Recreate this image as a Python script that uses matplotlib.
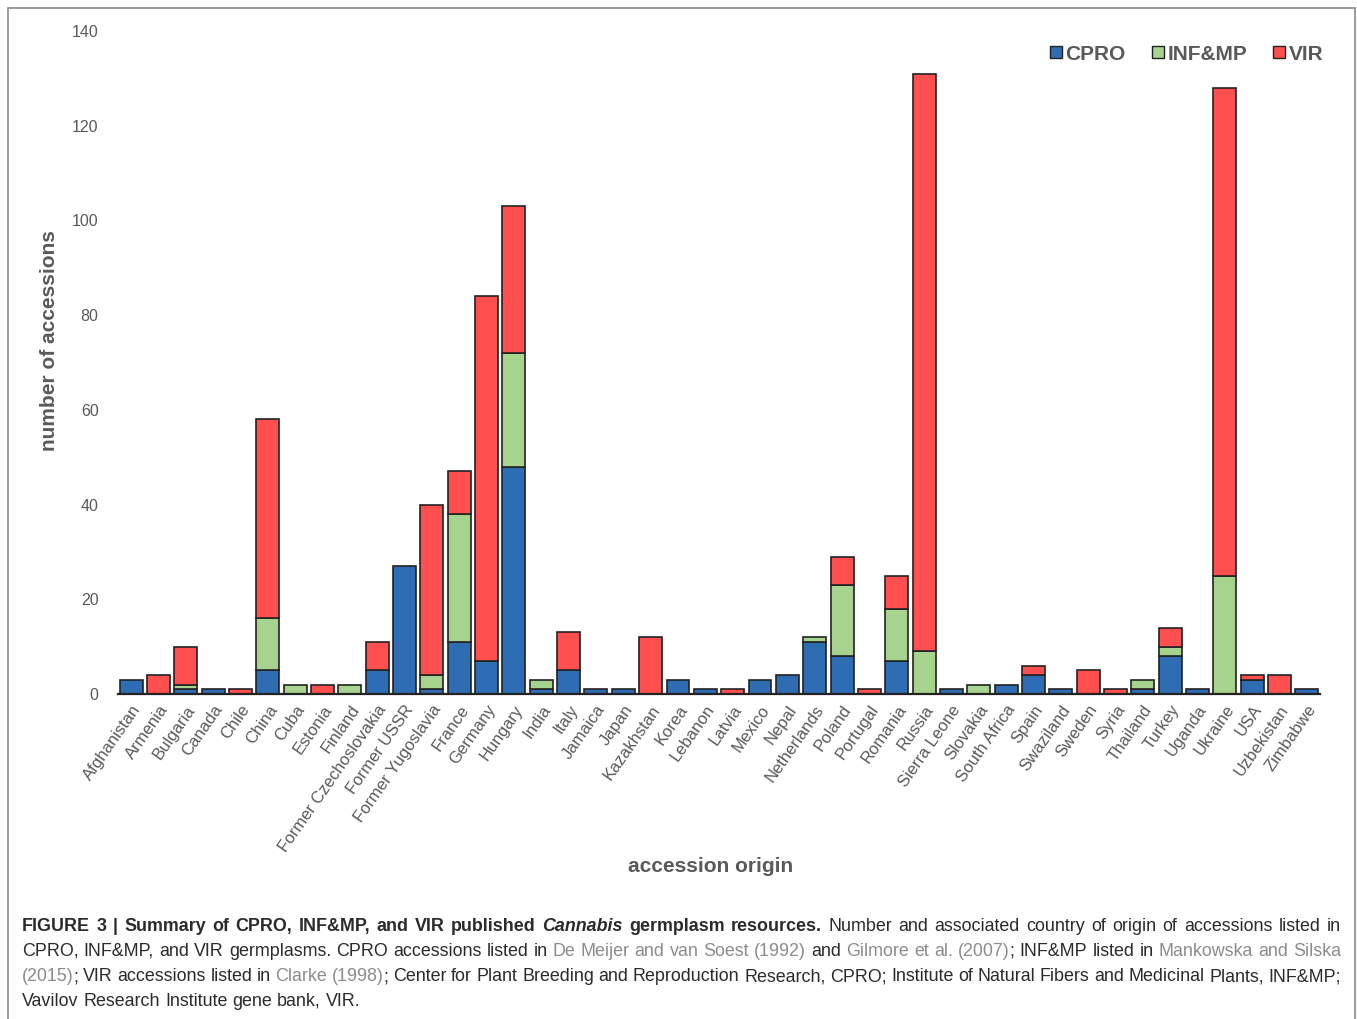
import numpy as np
import matplotlib
matplotlib.use("Agg")
import matplotlib.pyplot as plt
from matplotlib.lines import Line2D
from matplotlib.patches import Rectangle

plt.rcParams['font.family'] = ['Liberation Sans', 'DejaVu Sans']

countries = ["Afghanistan", "Armenia", "Bulgaria", "Canada", "Chile", "China", "Cuba",
             "Estonia", "Finland", "Former Czechoslovakia", "Former USSR",
             "Former Yugoslavia", "France", "Germany", "Hungary", "India", "Italy",
             "Jamaica", "Japan", "Kazakhstan", "Korea", "Lebanon", "Latvia", "Mexico",
             "Nepal", "Netherlands", "Poland", "Portugal", "Romania", "Russia",
             "Sierra Leone", "Slovakia", "South Africa", "Spain", "Swaziland", "Sweden",
             "Syria", "Thailand", "Turkey", "Uganda", "Ukraine", "USA", "Uzbekistan",
             "Zimbabwe"]
cpro = [3, 0, 1, 1, 0, 5, 0, 0, 0, 5, 27, 1, 11, 7, 48, 1, 5, 1, 1, 0, 3, 1, 0, 3,
        4, 11, 8, 0, 7, 0, 1, 0, 2, 4, 1, 0, 0, 1, 8, 1, 0, 3, 0, 1]
infmp = [0, 0, 1, 0, 0, 11, 2, 0, 2, 0, 0, 3, 27, 0, 24, 2, 0, 0, 0, 0, 0, 0, 0, 0,
         0, 1, 15, 0, 11, 9, 0, 2, 0, 0, 0, 0, 0, 2, 2, 0, 25, 0, 0, 0]
vir = [0, 4, 8, 0, 1, 42, 0, 2, 0, 6, 0, 36, 9, 77, 31, 0, 8, 0, 0, 12, 0, 0, 1, 0,
       0, 0, 6, 1, 7, 122, 0, 0, 0, 2, 0, 5, 1, 0, 4, 0, 103, 1, 4, 0]
series_names = ["CPRO", "INF&MP", "VIR"]
yticks = [0, 20, 40, 60, 80, 100, 120, 140]

colors = ["#2E6DB4", "#A6D38E", "#FF4F4F"]
txt_gray = "#595959"
W, H = 1357, 1019

fig = plt.figure(figsize=(W / 100, H / 100), dpi=100)
ax = fig.add_axes([118 / W, 1 - 694 / H, (1320 - 118) / W, (694 - 31) / H])

x = np.arange(len(countries))
bottom = np.zeros(len(countries))
for vals, c in zip([cpro, infmp, vir], colors):
    vals = np.array(vals, dtype=float)
    mask = vals > 0
    ax.bar(x[mask], vals[mask], bottom=bottom[mask], width=0.84, color=c,
           edgecolor="#222222", linewidth=1.2, zorder=2)
    bottom += vals

ax.set_xlim(-0.48, len(countries) - 0.52)
ax.set_ylim(0, 140)
ax.set_yticks(yticks)
ax.tick_params(axis='y', length=0, pad=14, labelsize=11.5, labelcolor=txt_gray)
ax.set_xticks(x)
ax.set_xticklabels(countries, rotation=55, ha='right', rotation_mode='anchor',
                   fontsize=12, color=txt_gray)
ax.tick_params(axis='x', length=0, pad=6)
for s in ['top', 'right', 'left']:
    ax.spines[s].set_visible(False)
ax.spines['bottom'].set_linewidth(1.6)
ax.spines['bottom'].set_color("#222222")

fig.text(50 / W, 1 - 341 / H, "number of accessions", rotation=90, ha='center',
         va='center', fontsize=15, fontweight='bold', color=txt_gray)
fig.text(711 / W, 1 - 867 / H, "accession origin", ha='center', va='center',
         fontsize=15, fontweight='bold', color=txt_gray)

handles = [Line2D([], [], marker='s', linestyle='none', markersize=8.5,
                  markerfacecolor=c, markeredgecolor="#222222", markeredgewidth=1.0)
           for c in colors]
leg = fig.legend(handles, series_names, loc='center right',
                 bbox_to_anchor=(1342 / W, 1 - 54 / H), ncol=3, frameon=False,
                 handletextpad=0.0, columnspacing=1.1, handlelength=0.9,
                 prop={'size': 15, 'weight': 'bold'})
for t in leg.get_texts():
    t.set_color(txt_gray)

# outer frame
fig.add_artist(Rectangle((8 / W, -0.02), (1355 - 8) / W, 1.02 - 8 / H,
                         transform=fig.transFigure, fill=False,
                         edgecolor="#8a8a8a", linewidth=1.2))

# caption
dark = "#2b2b2b"
ref = "#8c8c8c"
styles = {
    'b': dict(fontweight='bold', color=dark),
    'bi': dict(fontweight='bold', fontstyle='italic', color=dark),
    'n': dict(color=dark),
    'g': dict(color=ref),
}
caption = [
    [("FIGURE 3 | Summary of CPRO, INF&MP, and VIR published ", 'b'), ("Cannabis", 'bi'),
     (" germplasm resources.", 'b'),
     (" Number and associated country of origin of accessions listed in", 'n')],
    [("CPRO, INF&MP, and VIR germplasms. CPRO accessions listed in ", 'n'),
     ("De Meijer and van Soest (1992)", 'g'), (" and ", 'n'),
     ("Gilmore et al. (2007)", 'g'), ("; INF&MP listed in ", 'n'),
     ("Mankowska and Silska", 'g')],
    [("(2015)", 'g'), ("; VIR accessions listed in ", 'n'), ("Clarke (1998)", 'g'),
     ("; Center for Plant Breeding and Reproduction Research, CPRO; Institute of Natural "
      "Fibers and Medicinal Plants, INF&MP;", 'n')],
    [("Vavilov Research Institute gene bank, VIR.", 'n')],
]
baselines = [931, 956, 981, 1006]
renderer = fig.canvas.get_renderer()
x0, x1 = 22, 1341
cap_size = 12.9
space = 0.28 * cap_size * 100 / 72


def split_words(runs):
    words, cur = [], []
    for text, st in runs:
        buf = ""
        for ch in text:
            if ch == ' ':
                if buf:
                    cur.append((buf, st))
                    buf = ""
                if cur:
                    words.append(cur)
                    cur = []
            else:
                buf += ch
        if buf:
            cur.append((buf, st))
    if cur:
        words.append(cur)
    return words


for i, (runs, yb) in enumerate(zip(caption, baselines)):
    words = split_words(runs)
    arts = []
    widths = []
    for w in words:
        pieces = []
        wsum = 0
        for text, st in w:
            t = fig.text(0, 1 - yb / H, text, fontsize=cap_size, va='baseline',
                         ha='left', **styles[st])
            bw = t.get_window_extent(renderer).width
            pieces.append((t, bw))
            wsum += bw
        arts.append(pieces)
        widths.append(wsum)
    if i < len(caption) - 1 and len(words) > 1:
        gap = (x1 - x0 - sum(widths)) / (len(words) - 1)
    else:
        gap = space
    xp = x0
    for pieces, wsum in zip(arts, widths):
        xx = xp
        for t, bw in pieces:
            t.set_x(xx / W)
            xx += bw
        xp += wsum + gap

fig.savefig("out.png", dpi=100)
